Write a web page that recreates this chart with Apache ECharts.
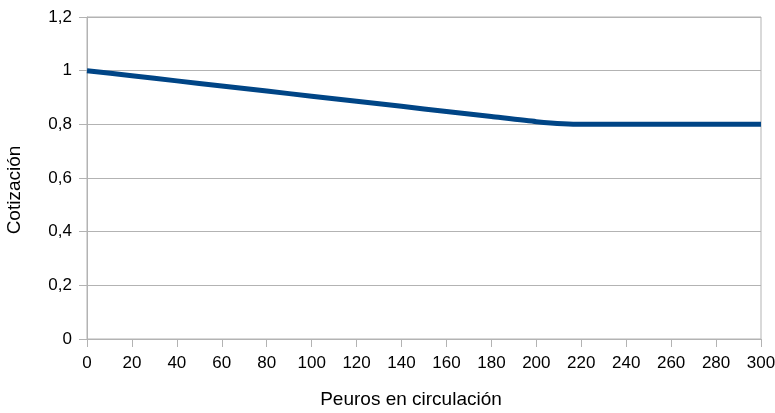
<!DOCTYPE html>
<html>
<head>
<meta charset="utf-8">
<script src="https://cdn.jsdelivr.net/npm/echarts@6/dist/echarts.min.js"></script>
<style>
  html, body { margin: 0; padding: 0; background: #fff; }
  #chart { width: 775px; height: 413px; }
</style>
</head>
<body>
<div id="chart"></div>
<script>
// Exchange rate of the peuro as a function of the amount in circulation
const circulation = [0, 20, 40, 60, 80, 100, 120, 140, 160, 180, 200, 220, 240, 260, 280, 300];
const rate = [1, 0.981, 0.962, 0.943, 0.924, 0.905, 0.886, 0.867, 0.848, 0.829, 0.81, 0.8, 0.8, 0.8, 0.8, 0.8];
const xTitle = 'Peuros en circulación';
const yTitle = 'Cotización';

const font = '"Liberation Sans", Arial, sans-serif';
const chart = echarts.init(document.getElementById('chart'), null, { renderer: 'canvas' });

chart.setOption({
  animation: false,
  grid: { left: 87, right: 14, top: 17, bottom: 74, containLabel: false,
          outerBoundsMode: 'none',
          show: true, borderColor: '#b3b3b3', borderWidth: 1 },
  xAxis: {
    type: 'value', min: 0, max: 300, interval: 20,
    name: xTitle, nameLocation: 'middle', nameGap: 51,
    // title sits a little left of the plot centre
    nameTextStyle: { fontFamily: font, fontSize: 19, color: '#000', padding: [0, 26, 0, 0] },
    axisLine: { show: true, lineStyle: { color: '#b3b3b3' } },
    axisTick: { show: true, length: 8, lineStyle: { color: '#b3b3b3' } },
    axisLabel: { fontFamily: font, fontSize: 17, color: '#000', margin: 16 },
    splitLine: { show: false }
  },
  yAxis: {
    type: 'value', min: 0, max: 1.2, interval: 0.2,
    name: yTitle, nameLocation: 'middle', nameGap: 63, nameRotate: 90,
    // title sits a little below the plot centre
    nameTextStyle: { fontFamily: font, fontSize: 19, color: '#000', padding: [0, 24, 0, 0] },
    axisLine: { show: true, lineStyle: { color: '#b3b3b3' } },
    axisTick: { show: true, length: 8, lineStyle: { color: '#b3b3b3' } },
    axisLabel: { fontFamily: font, fontSize: 17, color: '#000', margin: 15,
                 formatter: v => String(Math.round(v * 10) / 10).replace('.', ',') },
    splitLine: { show: true, lineStyle: { color: '#b3b3b3', width: 1 } }
  },
  series: [{
    type: 'line',
    data: circulation.map((x, i) => [x, rate[i]]),
    showSymbol: false,
    smooth: 0.2,
    lineStyle: { color: '#004586', width: 5 },
    itemStyle: { color: '#004586' }
  }]
});
</script>
</body>
</html>
